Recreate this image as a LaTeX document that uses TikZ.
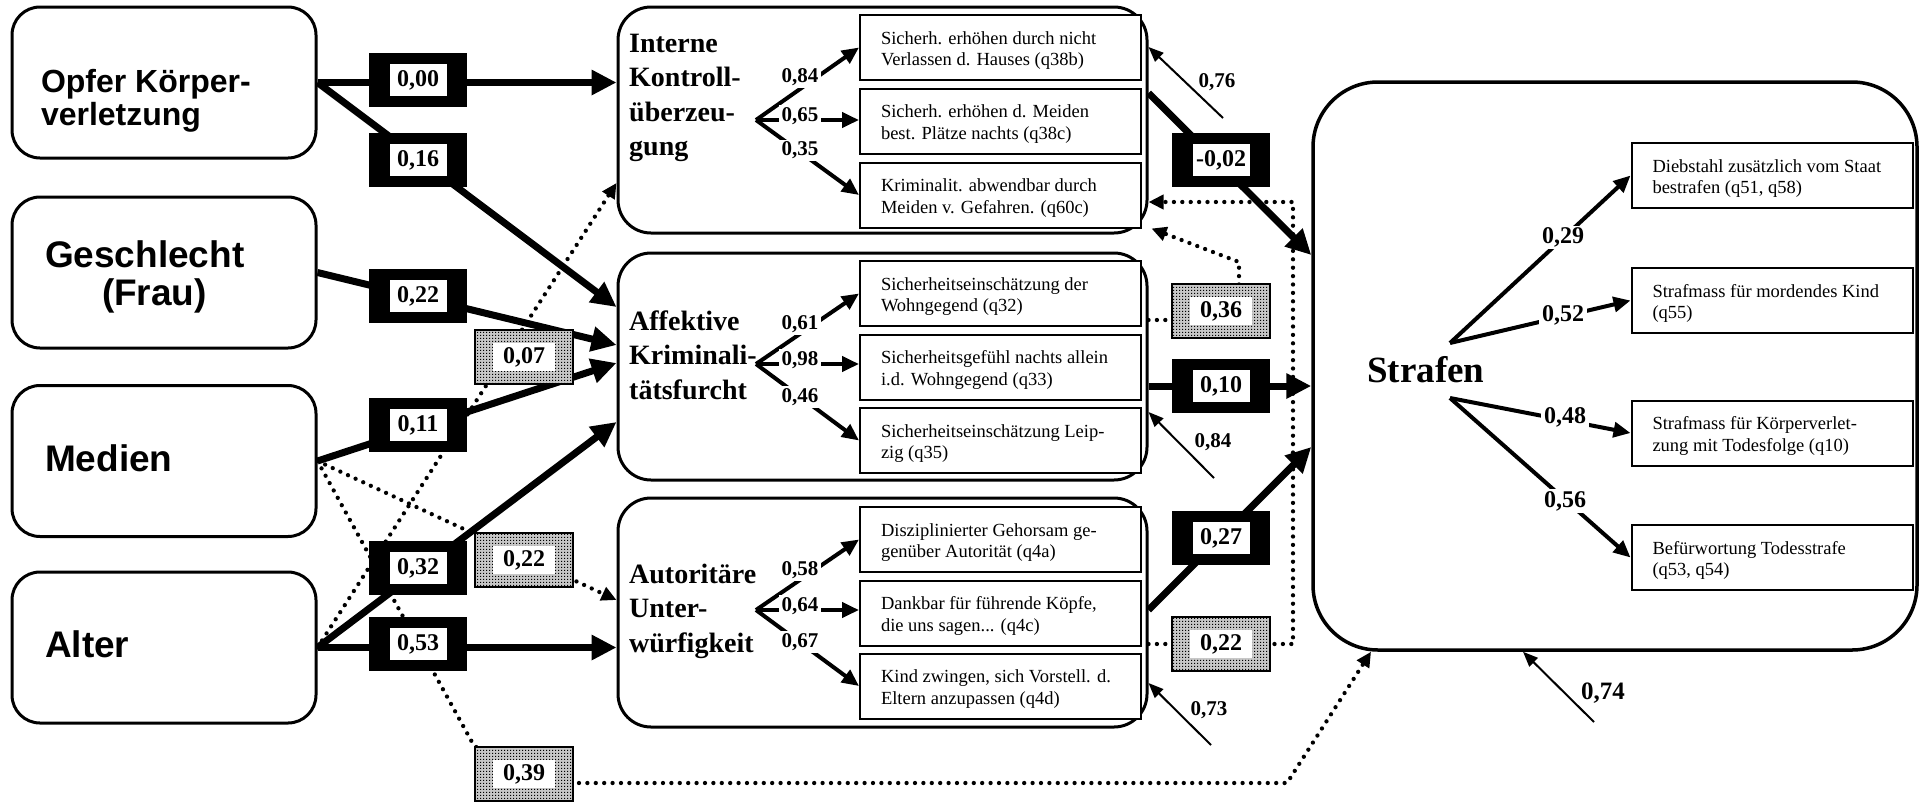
\documentclass[tikz,border=0pt]{standalone}
\usepackage{fontspec}
\setmainfont{Liberation Serif}
\newfontfamily\headsans{Liberation Sans}
\usetikzlibrary{arrows.meta,calc,patterns}
\pgfdeclarelayer{connectors}
\pgfsetlayers{connectors,main}
% fine stipple used in the grey coefficient frames
\pgfdeclarepatternformonly{stipple}{\pgfqpoint{0pt}{0pt}}{\pgfqpoint{3pt}{3pt}}{\pgfqpoint{3pt}{3pt}}%
  {\pgfpathrectangle{\pgfqpoint{0pt}{0pt}}{\pgfqpoint{1.6pt}{1.6pt}}\pgfusepath{fill}}
% stacked lines whose baseline is the first line
\newcommand\rows[1]{\begin{tabular}[t]{@{}l@{}}#1\end{tabular}}
\newcommand\itemtext[1]{\makebox[239pt][l]{\rows{#1}}}

\begin{document}
\begin{tikzpicture}[x=1pt,y=-1pt,
  varbox/.style={draw,line width=3pt,rounded corners=28pt,minimum width=304pt,minimum height=151pt,inner ysep=0pt},
  varfont/.style={font=\headsans\bfseries\fontsize{37}{38}\selectfont},
  latent/.style={draw,line width=3pt,rounded corners=33pt,minimum width=529pt,inner sep=0pt},
  lattitle/.style={anchor=base west,inner sep=0pt,font=\bfseries\fontsize{28}{34.5}\selectfont},
  indbox/.style={draw,line width=2pt,fill=white,minimum width=281pt,minimum height=65pt,inner xsep=21pt,inner ysep=0pt,
    text height=18pt,text depth=25pt,font=\fontsize{18.5}{21.7}\selectfont},
  coefb/.style={fill=black,minimum width=98pt,minimum height=54pt,inner sep=0pt,
    font=\bfseries\fontsize{24}{24}\selectfont,
    path picture={\fill[white] ([shift={(-28.5pt,-16pt)}]path picture bounding box.center)
      rectangle ([shift={(28.5pt,16pt)}]path picture bounding box.center);}},
  coefg/.style={draw=black,line width=1.3pt,preaction={fill=black!22},pattern=stipple,pattern color=black,
    minimum width=98pt,minimum height=54pt,inner sep=0pt,font=\bfseries\fontsize{24}{24}\selectfont,
    path picture={\fill[white] ([shift={(-31pt,-14pt)}]path picture bounding box.center)
      rectangle ([shift={(31pt,14pt)}]path picture bounding box.center);}},
  wlabel/.style={fill=white,inner xsep=3pt,inner ysep=2pt,font=\bfseries\fontsize{21}{21}\selectfont},
  slabel/.style={fill=white,inner xsep=3pt,inner ysep=2pt,font=\bfseries\fontsize{24}{24}\selectfont},
  elabel/.style={inner sep=0pt,font=\bfseries\fontsize{21}{21}\selectfont},
  strong/.style={line width=7pt,-{Triangle[length=25pt,width=24pt]}},
  load/.style={line width=4pt,-{Triangle[length=17pt,width=15pt]}},
  resid/.style={line width=2pt,-{Triangle[length=15pt,width=12pt]}},
  dotline/.style={line width=4.3pt,line cap=round,dash pattern=on 0pt off 8.4pt},
  dotarrow/.style={dotline,-{Triangle[length=15pt,width=14pt]}},
]
\useasboundingbox (0,0) rectangle (1924,801);

% exogenous variables
\node[varbox,inner xsep=29pt,text height=40pt,text depth=21pt,
  font=\headsans\bfseries\fontsize{32}{33}\selectfont] (opfer) at (164,82.5)
  {\makebox[246pt][l]{\rows{Opfer Körper-\\verletzung}}};
\node[varbox,varfont,inner xsep=33pt,text height=30pt,text depth=41pt] (gesch) at (164,272.5)
  {\makebox[238pt][l]{\rows{Geschlecht\\\hspace*{57pt}(Frau)}}};
\node[varbox,varfont,inner xsep=33pt,text height=40pt,text depth=20pt] (medien) at (164,461)
  {\makebox[238pt][l]{Medien}};
\node[varbox,varfont,inner xsep=33pt,text height=40pt,text depth=21pt] (alter) at (164,647.5)
  {\makebox[238pt][l]{Alter}};

% latent constructs
\node[latent,minimum height=226pt] (interne) at (882.5,120) {};
\node[latent,minimum height=227pt] (affekt) at (882.5,366.5) {};
\node[latent,minimum height=229pt] (autor) at (882.5,612.5) {};
\node[lattitle] (interneT) at (629,52) {\rows{Interne\\Kontroll-\\überzeu-\\gung}};
\node[lattitle] (affektT) at (629,330) {\rows{Affektive\\Kriminali-\\tätsfurcht}};
\node[lattitle] (autorT) at (629,583) {\rows{Autoritäre\\Unter-\\würfigkeit}};

% indicators
\node[indbox] (i11) at (1000.5,47.5) {\itemtext{Sicherh. erhöhen durch nicht\\Verlassen d. Hauses (q38b)}};
\node[indbox] (i12) at (1000.5,121) {\itemtext{Sicherh. erhöhen d. Meiden\\best. Plätze nachts (q38c)}};
\node[indbox] (i13) at (1000.5,195) {\itemtext{Kriminalit. abwendbar durch\\Meiden v. Gefahren. (q60c)}};
\node[indbox] (i21) at (1000.5,293.5) {\itemtext{Sicherheitseinschätzung der\\Wohngegend (q32)}};
\node[indbox] (i22) at (1000.5,367) {\itemtext{Sicherheitsgefühl nachts allein\\i.d. Wohngegend (q33)}};
\node[indbox] (i23) at (1000.5,440.5) {\itemtext{Sicherheitseinschätzung Leip-\\zig (q35)}};
\node[indbox] (i31) at (1000.5,539.5) {\itemtext{Disziplinierter Gehorsam ge-\\genüber Autorität (q4a)}};
\node[indbox] (i32) at (1000.5,613) {\itemtext{Dankbar für führende Köpfe,\\die uns sagen... (q4c)}};
\node[indbox] (i33) at (1000.5,686) {\itemtext{Kind zwingen, sich Vorstell. d.\\Eltern anzupassen (q4d)}};

% outcome construct
\node[latent,rounded corners=65pt,line width=3.5pt,minimum width=604pt,minimum height=568pt] (strafen) at (1615,366) {};
\node[anchor=base west,inner sep=0pt,font=\bfseries\fontsize{37}{37}\selectfont] (strafenT) at (1367,382) {Strafen};
\node[indbox] (s1) at (1772,175.5) {\itemtext{Diebstahl zusätzlich vom Staat\\bestrafen (q51, q58)}};
\node[indbox] (s2) at (1772,300.5) {\itemtext{Strafmass für mordendes Kind\\(q55)}};
\node[indbox] (s3) at (1772,433) {\itemtext{Strafmass für Körperverlet-\\zung mit Todesfolge (q10)}};
\node[indbox] (s4) at (1772,557.5) {\itemtext{Befürwortung Todesstrafe\\(q53, q54)}};

% path coefficients
\node[coefb] (c000) at (418,80) {0,00};
\node[coefb] (c016) at (418,160) {0,16};
\node[coefb] (c022) at (418,296) {0,22};
\node[coefb] (c011) at (418,425) {0,11};
\node[coefb] (c032) at (418,568) {0,32};
\node[coefb] (c053) at (418,644) {0,53};
\node[coefb] (cm002) at (1221,160) {-0,02};
\node[coefb] (c010) at (1221,386) {0,10};
\node[coefb] (c027) at (1221,538) {0,27};
\node[coefg] (g007) at (524,357) {0,07};
\node[coefg] (g022a) at (524,560) {0,22};
\node[coefg] (g039) at (524,774) {0,39};
\node[coefg] (g036) at (1221,311) {0,36};
\node[coefg] (g022b) at (1221,644) {0,22};

% branching points of the measurement models
\coordinate (apI) at (756,120);
\coordinate (apA) at (756,364);
\coordinate (apU) at (756,610);
\coordinate (apS1) at (1450,343);
\coordinate (apS2) at (1450,398);
% free ends of the residual arrows
\coordinate (r76) at (1223,118);
\coordinate (r84) at (1214,478);
\coordinate (r73) at (1211,745);
\coordinate (r74) at (1594,722);

\begin{pgfonlayer}{connectors}
  % non-significant paths
  \draw[dotarrow] (alter.east) -- (interne.west |- 0,183);
  \draw[dotarrow] (medien.east) -- (autor.west |- 0,600);
  \draw[dotarrow] (medien.east) -- (g039.north west) -- (g039.east |- 0,783) -- (1287,783) -- (strafen.south -| 1371,0);
  \draw[dotarrow] (affekt.east |- 0,320) -- (1239,320) -- (1239,262) -- ($(interne.south east)+(3,-6)$);
  \draw[dotarrow] (autor.east |- 0,644) -- (1293,644) -- (1293,202) -- (interne.east |- 0,202);
  % residuals
  \draw[resid] (r76) -- (interne.east |- 0,47);
  \draw[resid] (r84) -- (affekt.east |- 0,412);
  \draw[resid] (r73) -- (autor.east |- 0,683);
  \draw[resid] (r74) -- (strafen.south -| 1523,0);
  % loadings
  \draw[load] (apI) -- (i11.west);
  \draw[load] (apI) -- (i12.west |- apI);
  \draw[load] (apI) -- (i13.west);
  \draw[load] (apA) -- (i21.west);
  \draw[load] (apA) -- (i22.west |- apA);
  \draw[load] (apA) -- (i23.west);
  \draw[load] (apU) -- (i31.west);
  \draw[load] (apU) -- (i32.west |- apU);
  \draw[load] (apU) -- (i33.west);
  \draw[load] (apS1) -- (s1.west);
  \draw[load] (apS1) -- (s2.west);
  \draw[load] (apS2) -- (s3.west);
  \draw[load] (apS2) -- (s4.west);
  % significant paths
  \draw[strong] (opfer.east) -- (interne.west |- opfer.east);
  \draw[strong] (opfer.east) -- (affekt.west |- 0,307);
  \draw[strong] (gesch.east) -- (affekt.west |- 0,345);
  \draw[strong] (medien.east) -- (affekt.west |- 0,363);
  \draw[strong] (alter.east) -- (affekt.west |- 0,422);
  \draw[strong] (alter.east) -- (autor.west |- alter.east);
  \draw[strong] (interne.east |- 0,93) -- (strafen.west |- 0,255);
  \draw[strong] (affekt.east |- c010) -- (strafen.west |- c010);
  \draw[strong] (autor.east |- 0,610) -- (strafen.west |- 0,447);
\end{pgfonlayer}

% loading values
\node[wlabel] (l084) at (800,77.5) {0,84};
\node[wlabel] (l065) at (800,116) {0,65};
\node[wlabel] (l035) at (800,150.5) {0,35};
\node[wlabel] (l061) at (800,324) {0,61};
\node[wlabel] (l098) at (800,360) {0,98};
\node[wlabel] (l046) at (800,397) {0,46};
\node[wlabel] (l058) at (800,570) {0,58};
\node[wlabel] (l064) at (800,606) {0,64};
\node[wlabel] (l067) at (800,642) {0,67};
\node[slabel] (l029) at (1563,237.5) {0,29};
\node[slabel] (l052) at (1563,315) {0,52};
\node[slabel] (l048) at (1565,417) {0,48};
\node[slabel] (l056) at (1565,501) {0,56};
% residual values
\node[elabel] (e076) at (1217,82) {0,76};
\node[elabel] (e084) at (1213,442) {0,84};
\node[elabel] (e073) at (1209,710) {0,73};
\node[elabel,font=\bfseries\fontsize{25}{25}\selectfont] (e074) at (1603,693) {0,74};
\end{tikzpicture}
\end{document}
